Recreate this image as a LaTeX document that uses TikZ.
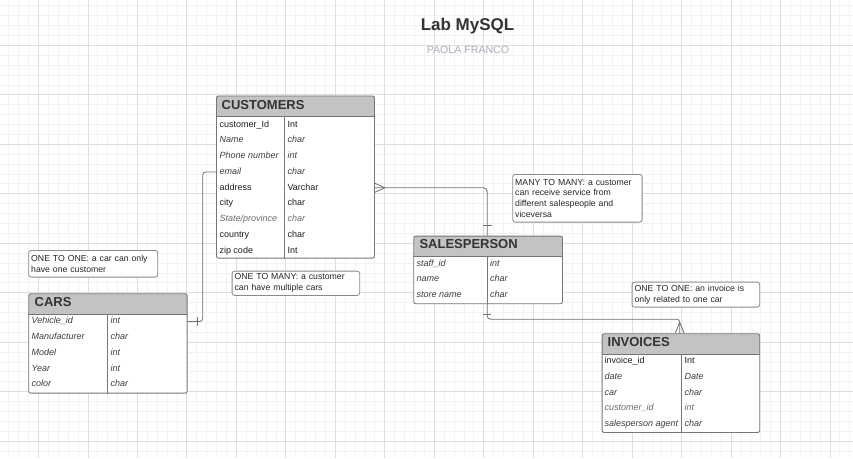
\documentclass[tikz,border=0pt]{standalone}
\usepackage{fontspec}
\setmainfont{Liberation Sans}

\definecolor{minorgrid}{HTML}{F2F2F2}
\definecolor{majorgrid}{HTML}{DEDEDE}
\definecolor{tblline}{HTML}{767676}
\definecolor{headfill}{HTML}{C3C3C3}
\definecolor{headtext}{HTML}{333333}
\definecolor{conncol}{HTML}{707070}
\definecolor{notecol}{HTML}{8A8A8A}
\definecolor{subcol}{HTML}{A9AFBB}

\tikzset{
  gridminor/.style={draw=minorgrid, line width=1pt},
  gridmajor/.style={draw=majorgrid, line width=1pt},
  tbl/.style={draw=tblline, fill=white, line width=0.9pt, rounded corners=2pt, anchor=north west, inner sep=0pt,
    path picture={\fill[headfill] (path picture bounding box.north west) rectangle ([yshift=-20.7pt]path picture bounding box.north east);}},
  tblrule/.style={draw=tblline, line width=0.8pt},
  headtxt/.style={anchor=west, inner sep=0pt, text=headtext, font=\bfseries\fontsize{13}{15}\selectfont},
  fld/.style={anchor=west, inner sep=0pt, text height=6.5pt, text depth=1.8pt, text=black!88, font=\fontsize{9}{11}\selectfont},
  ifld/.style={fld, text=black!76, font=\itshape\fontsize{9}{11}\selectfont},
  lfld/.style={fld, text=black!58, font=\itshape\fontsize{9}{11}\selectfont},
  note/.style={draw=notecol, fill=white, line width=0.8pt, rounded corners=2.5pt, anchor=north west, align=left,
    inner xsep=2.5pt, inner ysep=0pt, text=black!85, font=\fontsize{8.7}{10.8}\selectfont},
  conn/.style={draw=conncol, line width=0.8pt}
}

\begin{document}
\begin{tikzpicture}[x=1pt,y=-1pt]
\useasboundingbox (0,0) rectangle (853,458);

% background grid, snapped to whole pixels
\fill[white] (0,0) rectangle (853,458);
\foreach \i in {0,...,86}{
    \pgfmathsetmacro\gx{round(-1.5+\i*9.894)+0.5}
    \draw[gridminor] (\gx,0) -- (\gx,458);
}
\foreach \j in {1,...,46}{
    \pgfmathsetmacro\gy{round(-4.5+\j*9.894)+0.5}
    \draw[gridminor] (0,\gy) -- (853,\gy);
}
\foreach \i in {0,...,16}{
    \pgfmathsetmacro\gx{round(38.08+\i*49.47)+0.5}
    \draw[gridmajor] (\gx,0) -- (\gx,458);
}
\foreach \j in {0,...,8}{
    \pgfmathsetmacro\gy{round(44.97+\j*49.47)+0.5}
    \draw[gridmajor] (0,\gy) -- (853,\gy);
}

% title
\node (title) [text=headtext, font=\bfseries\fontsize{17}{20}\selectfont] at (467.5,26) {Lab MySQL};
\node (author) [text=subcol, font=\fontsize{10.6}{12}\selectfont] at (468,49.5) {PAOLA FRANCO};

% customers
\node[tbl, minimum width=158pt, minimum height=162.2pt] (customers) at (216,95.5) {};
\draw[tblrule] ([yshift=-20.7pt]customers.north west) -- ([yshift=-20.7pt]customers.north east);
\draw[tblrule] ([xshift=68.3pt,yshift=-20.7pt]customers.north west) -- ([xshift=68.3pt]customers.south west);
\node[headtxt] (customers-t) at (221.5,104.8) {CUSTOMERS};
\foreach \i/\s/\a/\b in {0/fld/customer\_Id/Int, 1/ifld/Name/char, 2/ifld/Phone number/int,
        3/ifld/email/char, 4/fld/address/Varchar, 5/fld/city/char, 6/lfld/{State/province}/char,
        7/fld/country/char, 8/fld/zip code/Int}{
    \node[\s] (cu\i) at (219.3,{124.8+\i*15.75}) {\a};
    \node[\s] (cut\i) at (287.3,{124.8+\i*15.75}) {\b};
}

% cars
\node[tbl, minimum width=158.4pt, minimum height=99.4pt] (cars) at (28.3,293.3) {};
\draw[tblrule] ([yshift=-20.7pt]cars.north west) -- ([yshift=-20.7pt]cars.north east);
\draw[tblrule] ([xshift=79pt,yshift=-20.7pt]cars.north west) -- ([xshift=79pt]cars.south west);
\node[headtxt] (cars-t) at (34.5,302.3) {CARS};
\foreach \i/\a/\b in {0/Vehicle\_id/int, 1/Manufacturer/char, 2/Model/int, 3/Year/int, 4/color/char}{
    \node[ifld] (ca\i) at (31.5,{321.5+\i*15.75}) {\a};
    \node[ifld] (cat\i) at (110.5,{321.5+\i*15.75}) {\b};
}

% salesperson
\node[tbl, minimum width=148.7pt, minimum height=67.6pt] (salesperson) at (413.3,235.7) {};
\draw[tblrule] ([yshift=-20.7pt]salesperson.north west) -- ([yshift=-20.7pt]salesperson.north east);
\draw[tblrule] ([xshift=74pt,yshift=-20.7pt]salesperson.north west) -- ([xshift=74pt]salesperson.south west);
\node[headtxt] (salesperson-t) at (419.3,244.5) {SALESPERSON};
\foreach \i/\a/\b in {0/staff\_id/int, 1/name/char, 2/store name/char}{
    \node[ifld] (sp\i) at (416.3,{263.8+\i*15.7}) {\a};
    \node[ifld] (spt\i) at (490,{263.8+\i*15.7}) {\b};
}

% invoices
\node[tbl, minimum width=157.6pt, minimum height=98.7pt] (invoices) at (601.7,333.3) {};
\draw[tblrule] ([yshift=-20.7pt]invoices.north west) -- ([yshift=-20.7pt]invoices.north east);
\draw[tblrule] ([xshift=80pt,yshift=-20.7pt]invoices.north west) -- ([xshift=80pt]invoices.south west);
\node[headtxt] (invoices-t) at (607.5,342.5) {INVOICES};
\foreach \i/\s/\a/\b in {0/fld/invoice\_id/Int, 1/ifld/date/Date, 2/ifld/car/char,
        3/lfld/customer\_id/int, 4/ifld/salesperson agent/char}{
    \node[\s] (in\i) at (604.3,{361.5+\i*15.7}) {\a};
    \node[\s] (int\i) at (684.3,{361.5+\i*15.7}) {\b};
}

% notes
\node[note, minimum width=129pt, minimum height=26.7pt, text width=124pt] (car-note) at (28.3,250) {ONE TO ONE: a car can only\\have one customer};
\node[note, minimum width=127.6pt, minimum height=24.3pt, text width=122.6pt] (cust-note) at (231.7,270.7) {ONE TO MANY: a customer\\can have multiple cars};
\node[note, minimum width=129.4pt, minimum height=47.7pt, text width=124.4pt] (sales-note) at (512.3,174) {MANY TO MANY: a customer\\can receive service from\\different salespeople and\\viceversa};
\node[note, minimum width=127.6pt, minimum height=25pt, text width=122.6pt] (inv-note) at (631.7,281.7) {ONE TO ONE: an invoice is\\only related to one car};

% customers - cars
\coordinate (cu-fk) at (customers.west |- cu3);
\coordinate (cars-fk) at (cars.east |- ca0);
\draw[conn, rounded corners=3pt] (cu-fk) -- ++(-13.3,0) |- (cars-fk);
\draw[conn] ([shift={(10pt,4.5pt)}]cars-fk) -- ++(0,9);

% customers - salesperson
\coordinate (cu-many) at (customers.east |- cu4);
\coordinate (sp-one) at ([xshift=74pt]salesperson.north west);
\draw[conn, rounded corners=4pt] (cu-many) -| (sp-one);
\draw[conn] ([yshift=4.5pt]cu-many) -- ([xshift=10pt]cu-many) -- ([yshift=-4.5pt]cu-many);
\draw[conn] ([shift={(-4.5pt,10.7pt)}]sp-one) -- ++(9,0);

% salesperson - invoices
\coordinate (sp-fk) at ([xshift=74pt]salesperson.south west);
\coordinate (inv-many) at ([xshift=78pt]invoices.north west);
\draw[conn, rounded corners=3pt] (sp-fk) -- ++(0,15) -| (inv-many);
\draw[conn] ([xshift=-4.5pt]inv-many) -- ([yshift=11pt]inv-many) -- ([xshift=4.5pt]inv-many);
\draw[conn] ([shift={(-4pt,-10pt)}]sp-fk) -- ++(8,0);

\end{tikzpicture}
\end{document}
